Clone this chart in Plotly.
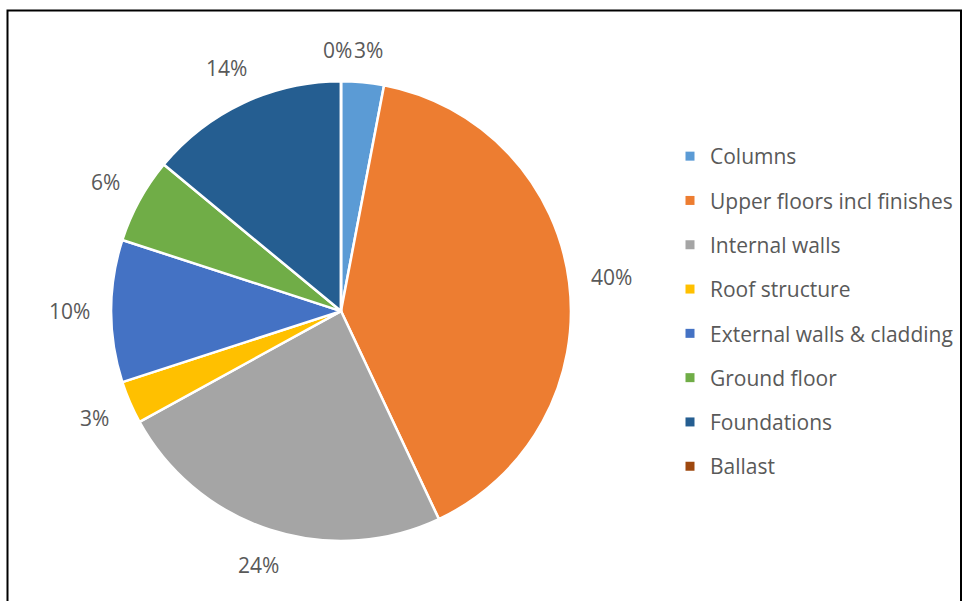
import math
import plotly.graph_objects as go

# Share of embodied carbon by building element
elements = [
    "Columns",
    "Upper floors incl finishes",
    "Internal walls",
    "Roof structure",
    "External walls & cladding",
    "Ground floor",
    "Foundations",
    "Ballast",
]
shares = [3, 40, 24, 3, 10, 6, 14, 0]
colors = ["#5B9BD5", "#ED7D31", "#A5A5A5", "#FFC000",
          "#4472C4", "#70AD47", "#255E91", "#9E480E"]

W, H = 963, 601
TEXT = "#595959"
FONT = "Open Sans"
LABEL_SIZE = 21

# Pie placement (paper fractions)
dom_x = [0.1153, 0.5929]
dom_y = [0.0998, 0.865]

fig = go.Figure()

fig.add_trace(go.Pie(
    labels=elements,
    values=shares,
    sort=False,
    direction="clockwise",
    rotation=0,
    marker=dict(colors=colors, line=dict(color="white", width=2.5)),
    textinfo="none",
    showlegend=False,
    domain=dict(x=dom_x, y=dom_y),
    hoverinfo="label+percent",
))

# Percentage labels set just outside each slice, at its mid-angle
cx_px = (dom_x[0] + dom_x[1]) / 2 * W
cy_px = (1 - (dom_y[0] + dom_y[1]) / 2) * H
radius_px = (dom_y[1] - dom_y[0]) * H / 2
gap_px = 21
digit_w, pct_w, text_h = 12, 18, 20
total = sum(shares)

labels_out = []
cum = 0.0
for s in shares:
    mid = (cum + s / 2) / total * 2 * math.pi
    cum += s
    label = f"{round(100 * s / total)}%"
    w = digit_w * (len(label) - 1) + pct_w
    sx, sy = math.sin(mid), math.cos(mid)
    dist = radius_px + gap_px + abs(sx) * w / 2 + abs(sy) * text_h / 2
    labels_out.append([label, cx_px + dist * sx, cy_px - dist * sy, w])

# Push apart neighbouring labels whose boxes would collide
n = len(labels_out)
for i in range(n):
    a, b = labels_out[i - 1], labels_out[i]
    if abs(a[2] - b[2]) < text_h:
        left, right = (a, b) if a[1] < b[1] else (b, a)
        overlap = (left[1] + left[3] / 2 + 1) - (right[1] - right[3] / 2)
        if overlap > 0:
            left[1] -= overlap / 2
            right[1] += overlap / 2

annotations = [
    dict(
        x=x / W, y=1 - y / H,
        xref="paper", yref="paper",
        xanchor="center", yanchor="middle",
        text=label,
        showarrow=False,
        font=dict(family=FONT, size=LABEL_SIZE, color=TEXT),
    )
    for label, x, y, _ in labels_out
]

# Legend entries, one group per element so the rows are spaced apart
for name, col in zip(elements, colors):
    fig.add_trace(go.Scatter(
        x=[None], y=[None],
        mode="markers",
        name=name,
        legendgroup=name,
        marker=dict(symbol="square", size=9, color=col),
        hoverinfo="skip",
    ))

fig.update_layout(
    width=W,
    height=H,
    margin=dict(l=0, r=0, t=0, b=0),
    paper_bgcolor="white",
    plot_bgcolor="white",
    xaxis=dict(visible=False),
    yaxis=dict(visible=False),
    annotations=annotations,
    legend=dict(
        x=670 / W, xanchor="left",
        y=0.4817, yanchor="middle",
        font=dict(family=FONT, size=LABEL_SIZE, color=TEXT),
        tracegroupgap=14,
        itemwidth=30,
        bgcolor="rgba(0,0,0,0)",
    ),
    shapes=[dict(
        type="rect", xref="paper", yref="paper",
        x0=7.5 / W, x1=961 / W,
        y0=-0.05, y1=1 - 10.5 / H,
        line=dict(color="black", width=2),
        fillcolor="rgba(0,0,0,0)",
        layer="above",
    )],
)

fig.write_html("out.html")
